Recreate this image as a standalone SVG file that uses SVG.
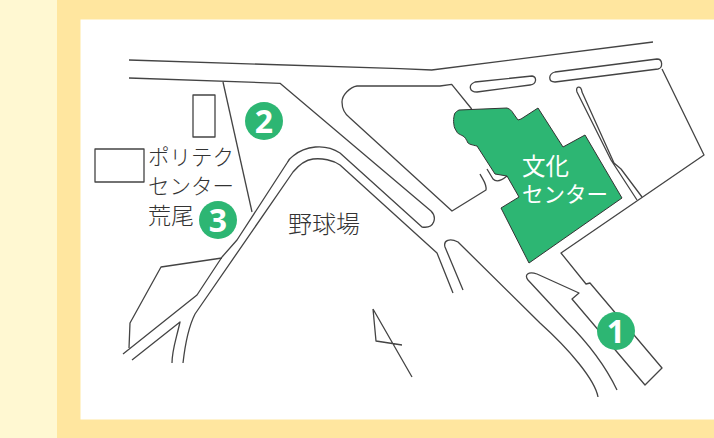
<svg xmlns="http://www.w3.org/2000/svg" width="714" height="438" viewBox="0 0 714 438">
<style>
.l{fill:none;stroke:#444;stroke-width:1.3;stroke-linejoin:round}
.t{font-family:"Noto Sans CJK JP","Noto Sans",sans-serif;font-weight:300;fill:#333;font-size:21.5px}
.w{font-family:"Noto Sans CJK JP","Noto Sans",sans-serif;font-weight:400;fill:#fff}
.n{font-family:"Open Sans","Noto Sans",sans-serif;font-weight:700;fill:#fff;font-size:32px;text-anchor:middle}
.c{fill:#2db673}
</style>
<rect width="714" height="438" fill="#fff8d2"/>
<rect x="57" width="657" height="438" fill="#ffe69f"/>
<rect x="80.5" y="19.5" width="633.5" height="400" fill="#fff"/>
<g id="map">
<path class="l" d="M129 60L400 68.7L431.7 70L653 42"/>
<path class="l" d="M129 78L280 83.3L431 211C437 217 435 229 422 227L340 153C325 143 305 146 293 156C290 158 288 161 287 163L237 240L222 257L197 295L123 354"/>
<path class="l" d="M223 82L252 212"/>
<path class="l" d="M222 258L161 267L130 323L129 348"/>
<path class="l" d="M132 360L180 322C176 340 172 350 172 363"/>
<path class="l" d="M183 363C185 345 188 328 195 314L293 172C298 166 305 160 313 159C322 158 333 160 340 165L437 253L453 293"/>
<path class="l" d="M193 95H215V137H193Z"/>
<path class="l" d="M95 149H144V182H95Z"/>
<path class="l" d="M373 309L376 341L402 345M373 309L412 377"/>
<path class="l" d="M471.7 109L451.7 84.3L440 86H357C350 87 342 95 342 102C342 110 346 115 350 118L452 211L486 190C487 184 483 180 480 174"/>
<path class="l" d="M487 169L493 179C496 182 501 181 507 176"/>
<path class="l" d="M463 290L445 247C443 240 450 238 458 242L540 323C570 350 595 380 598 397"/>
<path class="l" d="M617 390C605 365 590 345 567 322L528 280C524 275 528 271 537 274L579 293L572 299L645 385L662 368L590 283L586 284L561 253L704 155L662 69"/>
<path class="l" d="M475 82L532 76C537 77 537 84 530 85L477 92C469 92 468 85 475 82Z"/>
<path class="l" d="M555 72L657 59C663 59 663 68 658 69L555 82C548 82 548 74 555 72Z"/>
<path class="l" d="M637 200L611 160L577 92C575 86 581 85 582 92L614 163L621 169L642 197"/>
</g>
<g id="building">
<path d="M459 110L507 108C510 109 512 111 513 113L518 120L521 119L538 108L563 147L585 135L622 198L529 263L501 208L519 197L507 176L495 174L477 146C472 145 469 144 468 143C466 139 465 137 463 136C459 134 457 133 457 132C455 129 454 127 454 125C453 120 454 115 455 113C456 112 457 111 459 110Z" fill="#2db673" stroke="#333" stroke-width="1"/>
<text class="w" x="522" y="175" style="font-size:23.5px">文化</text>
<text class="w" x="522" y="202" style="font-size:21.5px">センター</text>
</g>
<g id="label-ground"><text class="t" x="288" y="233" style="font-size:24px">野球場</text></g>
<g id="label-polytech">
<text class="t" x="148" y="165">ポリテク</text>
<text class="t" x="148" y="194">センター</text>
<text class="t" x="148" y="224" style="font-size:23px">荒尾</text>
</g>
<g id="n1"><circle class="c" cx="616" cy="331" r="19"/><text class="n" x="616" y="342.500">1</text></g>
<g id="n2"><circle class="c" cx="264" cy="121" r="19"/><text class="n" x="264" y="132.500">2</text></g>
<g id="n3"><circle class="c" cx="218" cy="220" r="19"/><text class="n" x="218" y="231.500">3</text></g>
</svg>
